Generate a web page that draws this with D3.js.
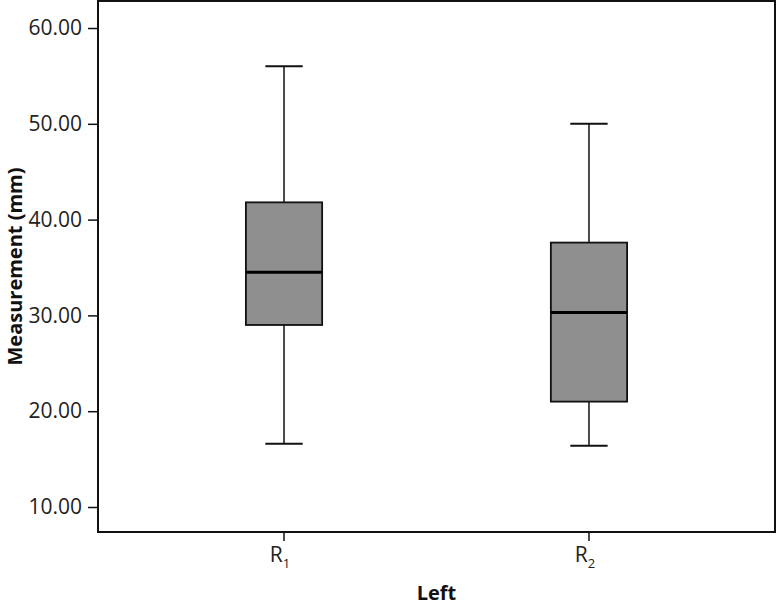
<!DOCTYPE html>
<html>
<head>
  <meta charset="UTF-8">
  <style>
    body { margin: 0; background: #fff; }
    text { font-family: "Open Sans", sans-serif; }
  </style>
</head>
<body>
<svg></svg>
<script src="https://d3js.org/d3.v7.min.js"></script>
<script>

let width = 778, height = 606;

// values
let groups = ["R1", "R2"];
let mins = [16.6, 16.4];
let q1s = [29.0, 21.0];
let medians = [34.5, 30.3];
let q3s = [41.8, 37.6];
let maxs = [56.0, 50.0];
let yTicks = [10, 20, 30, 40, 50, 60];

let boxes = groups.map((g, i) => ({
  name: g, min: mins[i], q1: q1s[i], med: medians[i], q3: q3s[i], max: maxs[i]
}));

let margin = {top: 1, right: 3, bottom: 74, left: 98};

let svg = d3.select("svg")
    .attr("width", width)
    .attr("height", height);

let x = d3.scalePoint()
    .domain(groups)
    .range([margin.left, width - margin.right])
    .padding(0.61);

let y = d3.scaleLinear()
    .domain([7.39, 62.82])
    .range([height - margin.bottom, margin.top]);

let step = x.step();
let boxW = step * 0.25;
let capW = boxW * 0.49;

// y axis
let yAxis = svg.append("g")
    .attr("transform", "translate(" + margin.left + ",0)")
    .call(d3.axisLeft(y).tickValues(yTicks).tickFormat(d3.format(".2f")).tickSize(10).tickPadding(6));
yAxis.select(".domain").remove();
yAxis.selectAll("line").attr("stroke", "#111").attr("stroke-width", 1.5);
yAxis.selectAll("text")
    .attr("font-size", "21px")
    .attr("fill", "#222")
    .attr("font-family", "Open Sans, sans-serif");

// x axis ticks
let xAxis = svg.append("g")
    .attr("transform", "translate(0," + (height - margin.bottom) + ")");
xAxis.selectAll("line")
    .data(groups)
    .enter()
    .append("line")
    .attr("x1", d => x(d)).attr("x2", d => x(d))
    .attr("y1", 0).attr("y2", 9)
    .attr("stroke", "#111").attr("stroke-width", 1.5);

let xl = xAxis.selectAll("text")
    .data(groups)
    .enter()
    .append("text")
    .attr("x", d => x(d) - 4)
    .attr("y", 30)
    .attr("text-anchor", "middle")
    .attr("font-size", "21px")
    .attr("fill", "#222");
xl.append("tspan").text(d => d.charAt(0));
xl.append("tspan")
    .attr("dy", 6)
    .attr("font-size", "13px")
    .text(d => d.slice(1));

// frame
svg.append("rect")
    .attr("x", margin.left)
    .attr("y", margin.top)
    .attr("width", width - margin.left - margin.right)
    .attr("height", height - margin.top - margin.bottom)
    .attr("fill", "none")
    .attr("stroke", "#111")
    .attr("stroke-width", 2);

// boxes
let bp = svg.append("g")
    .selectAll("g")
    .data(boxes)
    .enter()
    .append("g");

bp.append("line")
    .attr("x1", d => x(d.name)).attr("x2", d => x(d.name))
    .attr("y1", d => y(d.max)).attr("y2", d => y(d.min))
    .attr("stroke", "#111").attr("stroke-width", 1.5);

bp.append("line")
    .attr("x1", d => x(d.name) - capW / 2).attr("x2", d => x(d.name) + capW / 2)
    .attr("y1", d => y(d.max)).attr("y2", d => y(d.max))
    .attr("stroke", "#111").attr("stroke-width", 2);

bp.append("line")
    .attr("x1", d => x(d.name) - capW / 2).attr("x2", d => x(d.name) + capW / 2)
    .attr("y1", d => y(d.min)).attr("y2", d => y(d.min))
    .attr("stroke", "#111").attr("stroke-width", 2);

bp.append("rect")
    .attr("x", d => x(d.name) - boxW / 2)
    .attr("y", d => y(d.q3))
    .attr("width", boxW)
    .attr("height", d => y(d.q1) - y(d.q3))
    .attr("fill", "#8f8f8f")
    .attr("stroke", "#111")
    .attr("stroke-width", 1.8);

bp.append("line")
    .attr("x1", d => x(d.name) - boxW / 2).attr("x2", d => x(d.name) + boxW / 2)
    .attr("y1", d => y(d.med)).attr("y2", d => y(d.med))
    .attr("stroke", "#000").attr("stroke-width", 3);

// axis titles
svg.append("text")
    .attr("x", (margin.left + width - margin.right) / 2)
    .attr("y", 600)
    .attr("text-anchor", "middle")
    .attr("font-size", "20px")
    .attr("font-weight", "bold")
    .attr("fill", "#111")
    .text("Left");

svg.append("text")
    .attr("transform", "translate(22," + ((margin.top + height - margin.bottom) / 2) + ") rotate(-90)")
    .attr("text-anchor", "middle")
    .attr("font-size", "20px")
    .attr("font-weight", "bold")
    .attr("fill", "#111")
    .text("Measurement (mm)");

</script>
</body>
</html>
